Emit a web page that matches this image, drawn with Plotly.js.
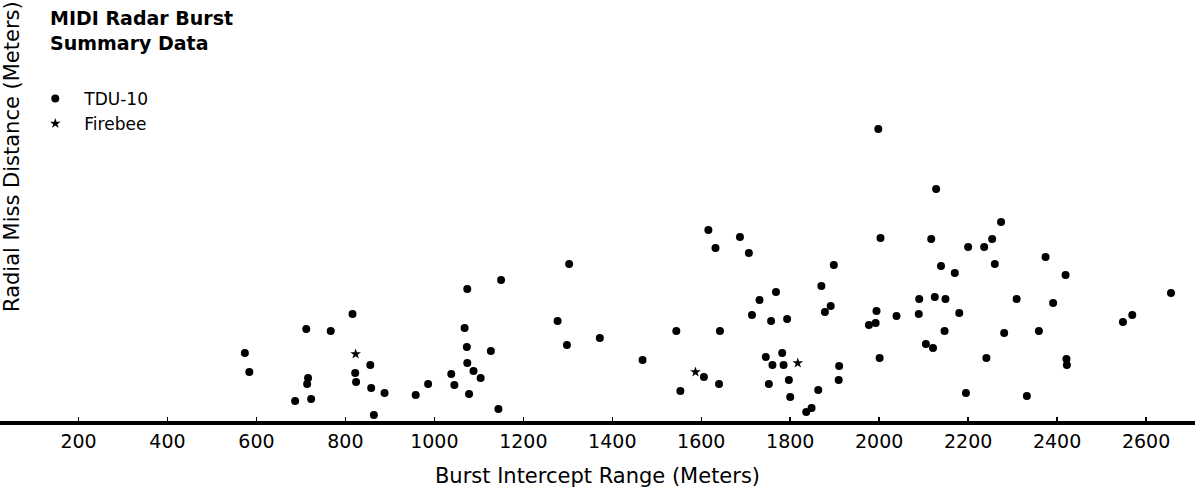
<!DOCTYPE html>
<html>
<head>
<meta charset="utf-8">
<script src="https://cdn.plot.ly/plotly-3.0.1.min.js"></script>
<style>html,body{margin:0;padding:0;background:#fff;}#chart{width:1195px;height:488px;}</style>
</head>
<body>
<div id="chart"></div>
<script>
// Burst intercept range (m) and radial miss distance (m)
const tduRange = [574,584,687,712,716,714,723,767,816,822,824,856,858,864,888,958,986,1038,1045,1074,1068,1073,1074,1088,1104,1078,1127,1150,1144,1303,1277,1298,1372,1468,1544,1553,1606,1616,1632,1642,1640,1687,1707,1768,1731,1714,1757,1745,1760,1752,2003,2117,2200,1898,1870,2139,2170,1891,1878,1793,1994,1977,1992,2039,2090,2125,2149,2089,2180,2147,2105,2121,2001,1782,1785,1910,1797,1909,1863,1800,2195,1836,1848,1998,2128,2274,2254,2236,2260,2374,2419,2309,2391,2281,2359,2241,2421,2422,2332,2656,2548,2569];
const tduMiss = [7.0,5.1,2.2,9.4,4.5,3.9,2.4,9.2,10.9,5.0,4.1,5.8,3.5,0.8,3.0,2.8,3.9,4.9,3.8,13.4,9.5,7.6,6.0,5.2,4.5,2.9,7.2,14.3,1.4,15.9,10.2,7.8,8.5,6.3,9.2,3.2,4.6,19.3,17.5,9.2,3.9,18.6,17.0,13.1,12.3,10.8,10.2,6.6,5.8,3.9,18.5,18.4,17.6,15.8,13.7,15.7,15.0,11.7,11.1,10.4,11.2,9.8,10.0,10.7,12.4,12.6,12.4,10.9,11.0,9.2,7.9,7.5,6.5,7.0,5.8,5.7,4.3,4.3,3.3,2.6,3.0,1.1,1.5,29.4,23.4,20.1,18.4,17.6,15.9,16.6,14.8,12.4,12.0,9.0,9.2,6.5,6.4,5.8,2.7,13.0,10.1,10.8];
const firebeeRange = [823,1587,1817];
const firebeeMiss = [6.9,5.1,6.0];
const tickValues = [200,400,600,800,1000,1200,1400,1600,1800,2000,2200,2400,2600];
const seriesNames = ['TDU-10','Firebee'];
const titleLines = ['MIDI Radar Burst','Summary Data'];

const FONT = 'DejaVu Sans, Liberation Sans, sans-serif';

const traces = [
  {x: tduRange, y: tduMiss, name: seriesNames[0], type: 'scatter', mode: 'markers',
   marker: {color: '#000', size: 8, symbol: 'circle'}, cliponaxis: false},
  {x: firebeeRange, y: firebeeMiss, name: seriesNames[1], type: 'scatter', mode: 'markers',
   marker: {color: '#000', size: 8, symbol: 'star'}, cliponaxis: false}
];

const layout = {
  width: 1195, height: 488,
  margin: {l: 0, r: 0, t: 0, b: 67, pad: 0},
  paper_bgcolor: '#fff', plot_bgcolor: '#fff',
  font: {family: FONT, color: '#000', size: 19},
  xaxis: {
    range: [23.5, 2710],
    tickvals: tickValues,
    ticktext: tickValues.map(String),
    ticks: 'inside', ticklen: 4, tickwidth: 1.5, tickcolor: '#000',
    showline: true, linewidth: 4, linecolor: '#000',
    showgrid: false, zeroline: false,
    tickfont: {family: FONT, size: 19, color: '#000'},
    title: {text: 'Burst Intercept Range (Meters)', font: {family: FONT, size: 21, color: '#000'}, standoff: 19}
  },
  yaxis: {
    range: [0.2, 42.3],
    showline: false, showgrid: false, zeroline: false,
    showticklabels: false, ticks: ''
  },
  showlegend: true,
  legend: {
    x: 0.022, xanchor: 'left', y: 0.808, yanchor: 'top',
    bgcolor: 'rgba(0,0,0,0)', borderwidth: 0,
    itemwidth: 48,
    font: {family: FONT, size: 17, color: '#000'},
    tracegroupgap: 0
  },
  annotations: [
    {
      text: '<b>' + titleLines.join('<br>') + '</b>',
      xref: 'paper', yref: 'paper',
      x: 48/1195, y: 1 - 5/421,
      xanchor: 'left', yanchor: 'top', align: 'left',
      showarrow: false,
      font: {family: 'DejaVu Sans, sans-serif', size: 19, color: '#000'}
    },
    {
      text: 'Radial Miss Distance (Meters)',
      xref: 'paper', yref: 'paper',
      x: 12/1195, y: 1 - 157/421,
      xanchor: 'center', yanchor: 'middle',
      textangle: -90, showarrow: false,
      font: {family: FONT, size: 21, color: '#000'}
    }
  ]
};

Plotly.newPlot('chart', traces, layout, {displayModeBar: false, staticPlot: true});
</script>
</body>
</html>
